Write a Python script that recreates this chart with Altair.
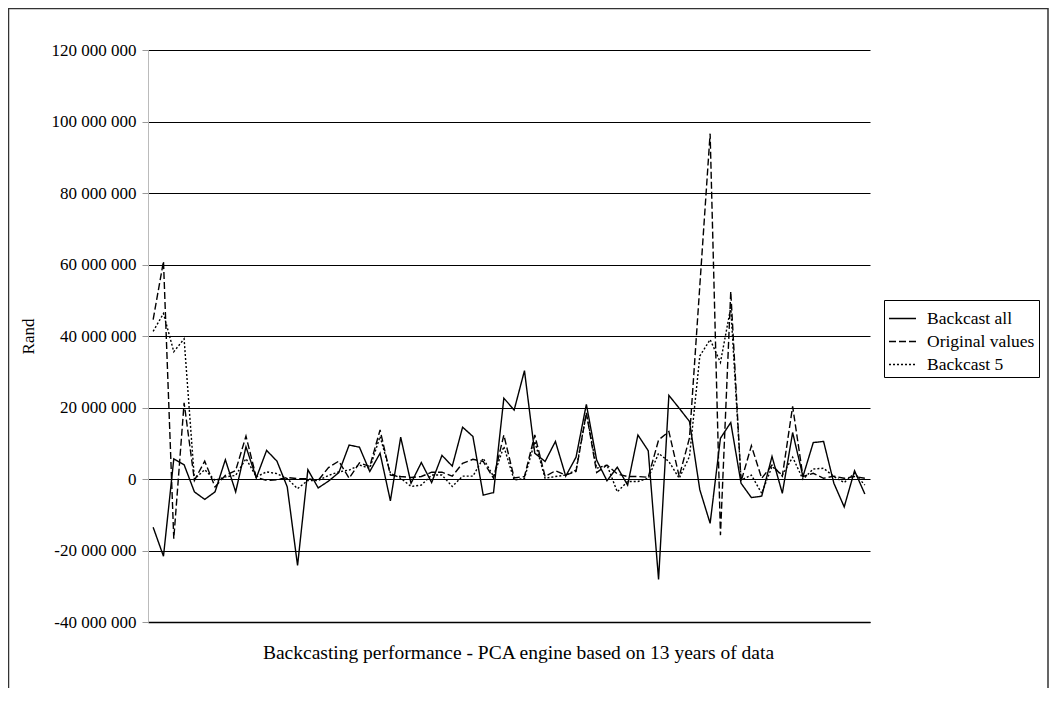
import altair as alt
import pandas as pd

series_names = ["Backcast all", "Original values", "Backcast 5"]

# values in millions of Rand, one per period (70 periods)
backcast_all = [
    -13.5, -21.6, 5.6, 4.0, -3.6, -5.7, -3.6, 5.4, -3.6, 9.0,
    0.3, 8.0, 5.0, -2.2, -24.2, 2.6, -2.5, -0.6, 1.8, 9.5,
    8.9, 2.1, 7.2, -6.1, 11.7, -1.2, 4.6, -1.0, 6.6, 3.6,
    14.5, 11.9, -4.5, -3.8, 22.6, 19.3, 30.3, 7.2, 4.9, 10.5,
    0.8, 6.1, 20.9, 5.3, -0.5, 3.3, -1.7, 12.3, 7.9, -28.1,
    23.4, 19.8, 16.1, -3.0, -12.4, 11.4, 15.8, -1.2, -5.2, -4.8,
    6.3, -4.0, 13.0, 0.7, 10.2, 10.5, -1.2, -7.8, 2.3, -4.2,
]
original_values = [
    44.6, 60.9, -16.7, 21.3, -0.4, 5.0, -2.2, 1.0, 2.4, 12.0,
    0.4, -0.4, -0.2, 0.4, 0.1, 0.1, -0.4, 3.2, 5.0, 0.2,
    4.5, 3.5, 13.7, 1.1, 0.7, 0.4, 0.7, 1.9, 1.9, 0.8,
    4.4, 5.5, 4.9, 0.2, 12.3, 0.3, 0.7, 12.3, 0.7, 2.3,
    1.1, 2.1, 18.5, 1.8, 3.9, 1.4, 0.7, 0.7, 0.5, 10.9,
    13.3, 0.7, 11.5, 54.0, 96.6, -15.7, 52.5, -0.7, 9.3, 0.2,
    3.9, 0.8, 20.3, 0.7, 1.6, 0.2, 0.8, 0.2, 0.7, 0.2,
]
backcast_5 = [
    41.3, 46.3, 35.6, 39.2, 0.0, 2.6, -0.4, 0.6, 1.0, 5.7,
    0.6, 2.0, 1.5, 0.1, -2.7, -0.4, -0.4, 1.0, 2.0, 2.5,
    3.9, 3.0, 11.9, 1.6, 0.2, -2.1, -1.7, 1.1, 1.1, -2.1,
    0.8, 0.8, 5.8, 0.7, 9.1, -0.3, 0.2, 10.5, 0.2, 0.7,
    1.1, 2.5, 18.4, 3.0, 3.9, -3.6, -0.7, -0.7, 0.2, 7.2,
    4.9, 0.2, 6.3, 34.4, 39.0, 32.6, 48.0, -0.3, 1.1, -4.0,
    3.5, 1.1, 6.1, -0.1, 2.8, 3.0, 0.7, -1.0, 1.6, -1.7,
]
y_ticks = [-40000000, -20000000, 0, 20000000, 40000000, 60000000,
           80000000, 100000000, 120000000]

rows = []
for name, vals in zip(series_names, [backcast_all, original_values, backcast_5]):
    for i, v in enumerate(vals):
        rows.append({"idx": i, "value": v * 1e6, "series": name})
df = pd.DataFrame(rows)

FONT = "Liberation Serif"
n = len(backcast_all)

lines = alt.Chart(df).mark_line(color="black", strokeWidth=1.4).encode(
    x=alt.X(
        "idx:Q",
        scale=alt.Scale(domain=[-0.5, n - 0.5], nice=False, zero=False),
        axis=alt.Axis(
            title="Backcasting performance - PCA engine based on 13 years of data",
            labels=False, ticks=False, grid=False, domain=True,
            domainColor="black", domainWidth=1.5,
            titleFont=FONT, titleFontSize=19.5, titleFontWeight="normal",
            titleColor="black", titleX=370, titleY=30,
            titleBaseline="middle", titleAlign="center",
        ),
    ),
    y=alt.Y(
        "value:Q",
        scale=alt.Scale(domain=[-40000000, 120000000], nice=False),
        axis=alt.Axis(
            title="Rand", values=y_ticks,
            labelExpr="(datum.value < 0 ? '-' : '') + replace(format(abs(datum.value), ','), regexp(',', 'g'), ' ')",
            labelFont=FONT, labelFontSize=17, labelColor="black", labelPadding=6,
            tickSize=6, tickColor="#999999", domainColor="#bbbbbb",
            grid=True, gridColor="black", gridWidth=1, gridOpacity=1,
            titleFont=FONT, titleFontSize=17, titleFontWeight="normal",
            titleColor="black", titleX=-120, titleY=286, titleAngle=270,
            titleAlign="center", titleBaseline="middle",
        ),
    ),
    strokeDash=alt.StrokeDash(
        "series:N",
        scale=alt.Scale(domain=series_names, range=[[1, 0], [7, 3], [2, 2]]),
        legend=alt.Legend(
            title=None, orient="none", legendX=736, legendY=250,
            labelFont=FONT, labelFontSize=17.5, labelColor="black",
            symbolType="stroke", symbolSize=729, symbolStrokeWidth=1.5,
            symbolStrokeColor="black", strokeColor="black", fillColor="white",
            padding=4, rowPadding=0, labelOffset=10,
        ),
    ),
    order="idx:Q",
)

frame = alt.Chart(pd.DataFrame({"a": [0]})).mark_rect(
    fillOpacity=0, stroke="#333333", strokeWidth=1.5
).encode(
    x=alt.value(-139.5), x2=alt.value(900), y=alt.value(-41.5), y2=alt.value(700)
)

chart = alt.layer(frame, lines).properties(
    width=722, height=572,
    autosize=alt.AutoSizeParams(type="none"),
    padding={"left": 140, "top": 42, "right": 179, "bottom": 66},
    background="white",
).configure_view(strokeWidth=0)

chart.save("out.html", embed_options={"renderer": "svg", "actions": False})
